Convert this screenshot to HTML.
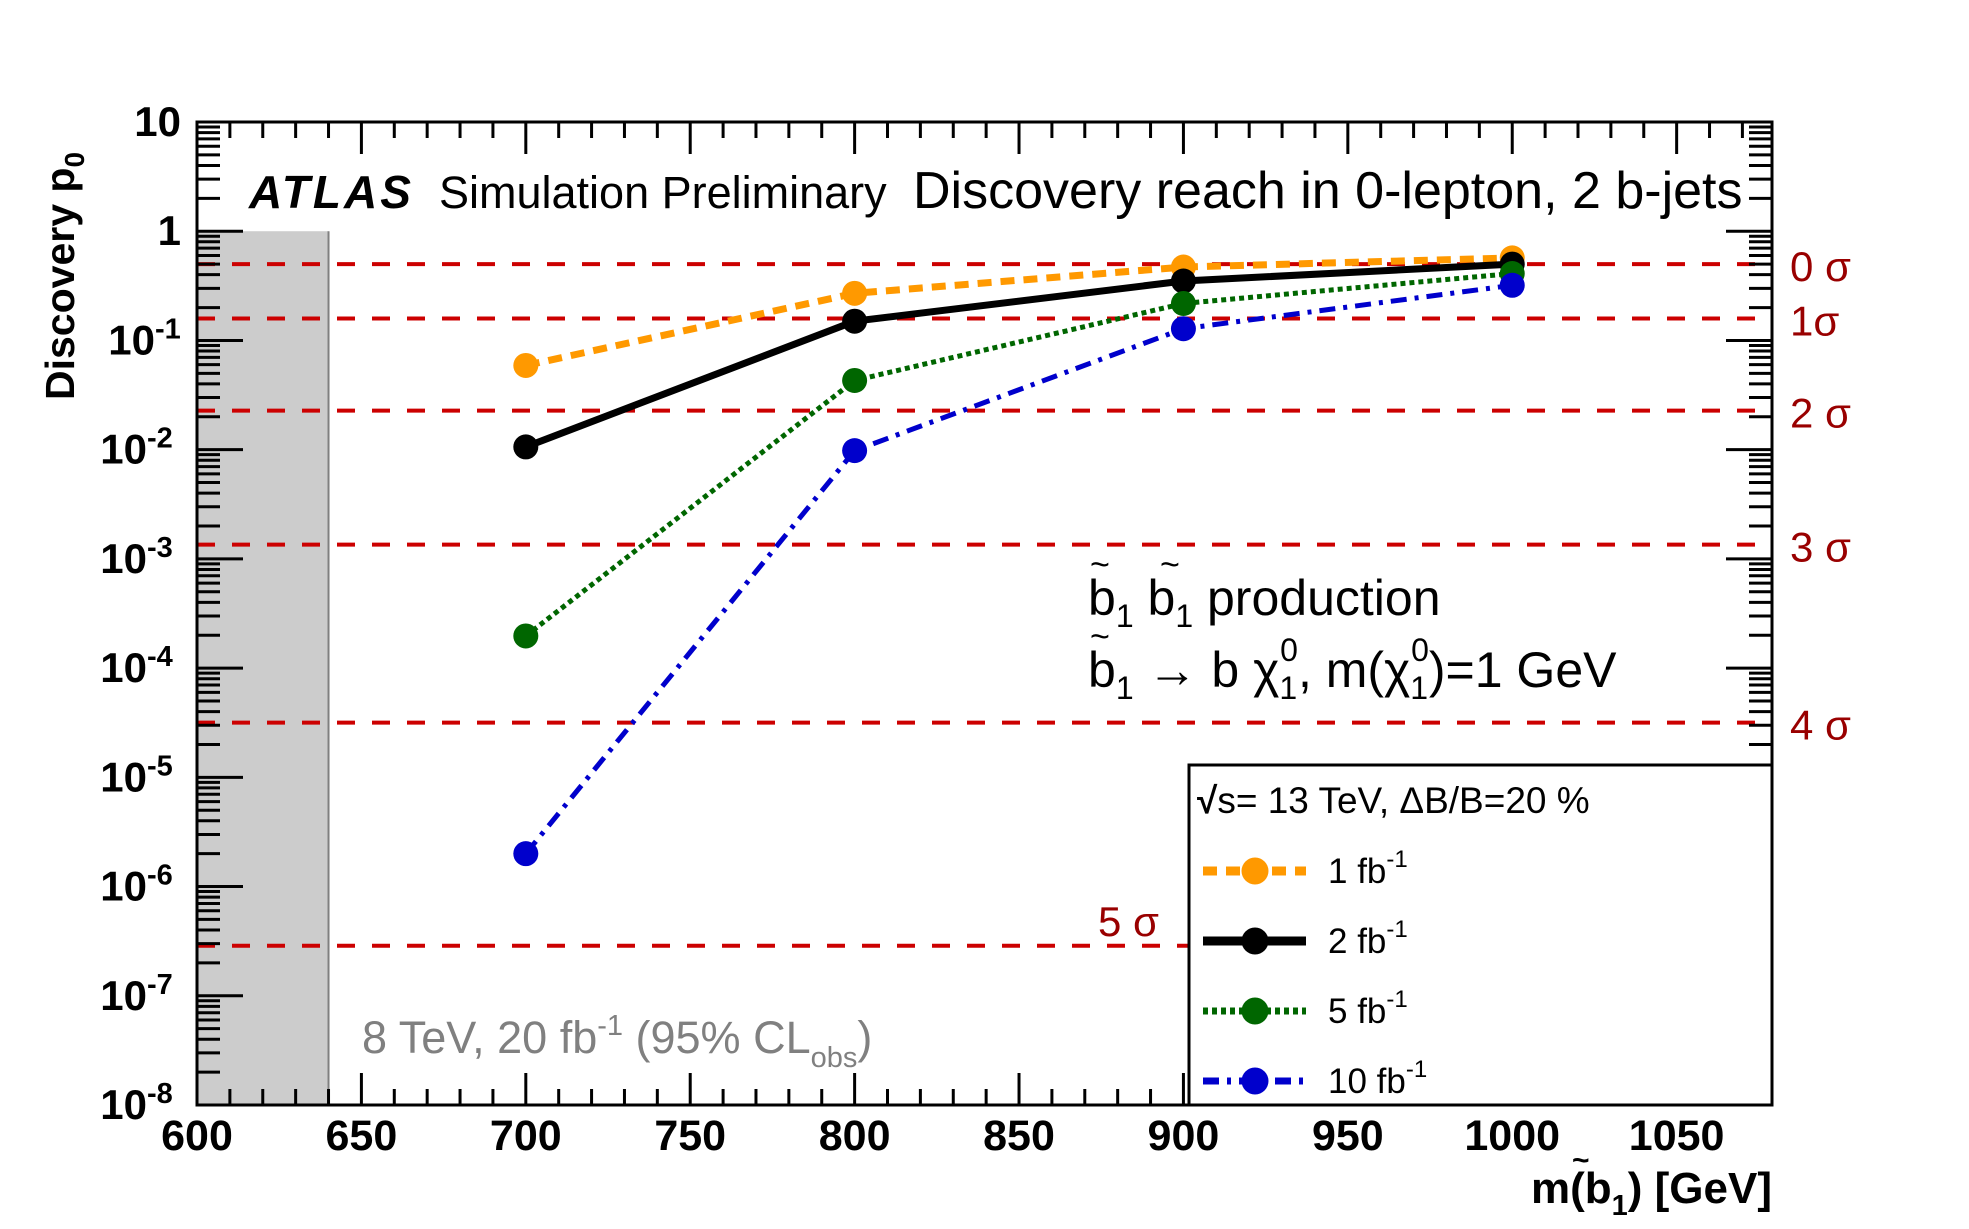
<!DOCTYPE html>
<html><head><meta charset="utf-8">
<style>
html,body{margin:0;padding:0;background:#fff;}
svg{display:block;font-family:"Liberation Sans",Arial,sans-serif;}
</style></head>
<body>
<svg id="chart" width="1969" height="1229" viewBox="0 0 1969 1229" xmlns="http://www.w3.org/2000/svg">
<rect x="0" y="0" width="1969" height="1229" fill="#fff"/>
<g id="plot"></g>
</svg>
<script>
const masses = [700, 800, 900, 1000];
const series1 = [0.059, 0.27, 0.47, 0.57];
const series2 = [0.0106, 0.15, 0.35, 0.50];
const series5 = [1.97e-4, 0.043, 0.218, 0.41];
const series10 = [2.0e-6, 0.0098, 0.128, 0.32];
const sigmaValues = [0.5, 0.1587, 0.02275, 0.00135, 3.17e-5, 2.87e-7];
const sigmaLabels = ["0 σ", "1σ", "2 σ", "3 σ", "4 σ", "5 σ"];
const xTicks = [600, 650, 700, 750, 800, 850, 900, 950, 1000, 1050];
const yExps = [1, 0, -1, -2, -3, -4, -5, -6, -7, -8];

const L=197, R=1772, T=122, B=1105;
const XMIN=600, XMAX=1079, YMINE=-8, YMAXE=1;
const NS="http://www.w3.org/2000/svg";
const g=document.getElementById('plot');
function X(m){return L+(m-XMIN)/(XMAX-XMIN)*(R-L);}
function Y(v){return T+(YMAXE-Math.log10(v))/(YMAXE-YMINE)*(B-T);}
function mk(tag,attrs,parent){const e=document.createElementNS(NS,tag);for(const k in attrs)e.setAttribute(k,attrs[k]);(parent||g).appendChild(e);return e;}

let band=mk('rect',{x:L,y:Y(1),width:X(640)-L,height:B-Y(1),fill:'#cccccc'});


let bl=mk('line',{x1:X(640),y1:Y(1),x2:X(640),y2:B,stroke:'#808080','stroke-width':2});



const legL=1189, legT=765;
sigmaValues.forEach((v,i)=>{
  const y=Y(v);
  const x2 = (i===5)? legL : R;
  let ln=mk('line',{x1:L,y1:y,x2:x2,y2:y,stroke:'#cc0000','stroke-width':4,'stroke-dasharray':'18 17'});
  
  
  let t;
  if(i===5){ t=mk('text',{x:1098,y:y-10,'font-size':42,fill:'#990000'}); }
  else { t=mk('text',{x:1790,y:y+17,'font-size':42,fill:'#990000'}); }
  t.textContent=sigmaLabels[i];
  
  
});

const axg=mk('g',{stroke:'#000','stroke-width':3});


for(let m=600;m<=XMAX;m+=10){
  const x=X(m); const len=(m%50===0)?32:16;
  mk('line',{x1:x,y1:B,x2:x,y2:B-len},axg);
  mk('line',{x1:x,y1:T,x2:x,y2:T+len},axg);
}
for(let e=YMINE;e<YMAXE;e++){
  for(let k=1;k<10;k++){
    const y=Y(k*Math.pow(10,e)); const len=(k===1)?46:23;
    mk('line',{x1:L,y1:y,x2:L+len,y2:y},axg);
    mk('line',{x1:R,y1:y,x2:R-len,y2:y},axg);
  }
}
let frame=mk('rect',{x:L,y:T,width:R-L,height:B-T,fill:'none',stroke:'#000','stroke-width':3});



xTicks.forEach(m=>{
  let t=mk('text',{x:X(m),y:1150,'font-size':43,'font-weight':'bold','text-anchor':'middle'});
  t.textContent=m;
  
  
});
yExps.forEach(e=>{
  const y=Y(Math.pow(10,e));
  let t=mk('text',{x:181,y:y+14,'font-size':42,'font-weight':'bold','text-anchor':'end'});
  if(e===1) t.textContent='10';
  else if(e===0) t.textContent='1';
  else { t.textContent='10'; t.setAttribute('x',181-(e===-1?26:34));
    let s=mk('text',{x:181-(e===-1?26:34),y:y-2,'font-size':29,'font-weight':'bold'}); s.textContent=String(e);
    
     }
  
  
});

const styles=[
  {d:series1,c:'#ff9900',dash:'14 9',w:7,n:'1fb'},
  {d:series2,c:'#000000',dash:'',w:7,n:'2fb'},
  {d:series5,c:'#006600',dash:'5 4',w:5,n:'5fb'},
  {d:series10,c:'#0000cc',dash:'16 8 4 8',w:5,n:'10fb'}
];
styles.forEach(s=>{
  const pts=masses.map((m,i)=>X(m)+','+Y(s.d[i])).join(' ');
  let pl=mk('polyline',{points:pts,fill:'none',stroke:s.c,'stroke-width':s.w,'stroke-dasharray':s.dash});
  
  
});
styles.forEach(s=>{
  masses.forEach((m,i)=>{
    let c=mk('circle',{cx:X(m),cy:Y(s.d[i]),r:12.5,fill:s.c});
    
    
  });
});

let lb=mk('rect',{x:legL,y:legT,width:R-legL,height:B-legT,fill:'#fff',stroke:'#000','stroke-width':3});


const legLabels=['1 fb','2 fb','5 fb','10 fb'];
const legY=[871,941,1011,1081];
styles.forEach((s,i)=>{
  const y=legY[i];
  let ln=mk('line',{x1:1203,y1:y,x2:1306,y2:y,stroke:s.c,'stroke-width':s.w+2,'stroke-dasharray':s.dash});
  
  
  let c=mk('circle',{cx:1255,cy:y,r:13.5,fill:s.c});
  
  
  let t=mk('text',{x:1328,y:y+12,'font-size':35});
  t.innerHTML=legLabels[i]+'<tspan dy="-16" font-size="24">-1</tspan>';
  
  
});
</script>
<svg x="0" y="0" width="1969" height="1229" style="position:absolute;left:0;top:0" xmlns="http://www.w3.org/2000/svg">
<text x="1197" y="813" font-size="37"><tspan font-weight="bold">√</tspan>s= 13 TeV, ΔB/B=20 %</text>
<text x="249" y="208" font-size="46" font-weight="bold" font-style="italic" letter-spacing="3">ATLAS</text>
<text x="439" y="208" font-size="45">Simulation Preliminary</text>
<text x="913" y="208" font-size="52">Discovery reach in 0-lepton, 2 b-jets</text>
<text x="1088" y="615" font-size="50">b<tspan dy="12" font-size="32">1</tspan><tspan dy="-12"> b</tspan><tspan dy="12" font-size="32">1</tspan><tspan dy="-12">  production</tspan></text>
<text x="1090" y="576" font-size="34">~</text>
<text x="1160" y="576" font-size="34">~</text>
<text x="1088" y="687" font-size="50">b<tspan dy="12" font-size="32">1</tspan><tspan dy="-12"> → b χ</tspan><tspan dy="12" font-size="32">1</tspan><tspan dy="-38" dx="-17" font-size="32">0</tspan><tspan dy="26">, m(χ</tspan><tspan dy="12" font-size="32">1</tspan><tspan dy="-38" dx="-17" font-size="32">0</tspan><tspan dy="26">)=1 GeV</tspan></text>
<text x="1090" y="648" font-size="34">~</text>
<text x="362" y="1053" font-size="45" fill="#808080">8 TeV, 20 fb<tspan dy="-18" font-size="29">-1</tspan><tspan dy="18"> (95% CL</tspan><tspan dy="14" font-size="29">obs</tspan><tspan dy="-14">)</tspan></text>
<text x="1772" y="1203" font-size="44" font-weight="bold" text-anchor="end">m(b<tspan dy="12" font-size="29">1</tspan><tspan dy="-12">) [GeV]</tspan></text>
<text x="1572" y="1170" font-size="30" font-weight="bold">~</text>
<text transform="translate(74,400) rotate(-90)" font-size="41" font-weight="bold">Discovery p<tspan dy="10" font-size="28">0</tspan></text>
</svg>
</body></html>
